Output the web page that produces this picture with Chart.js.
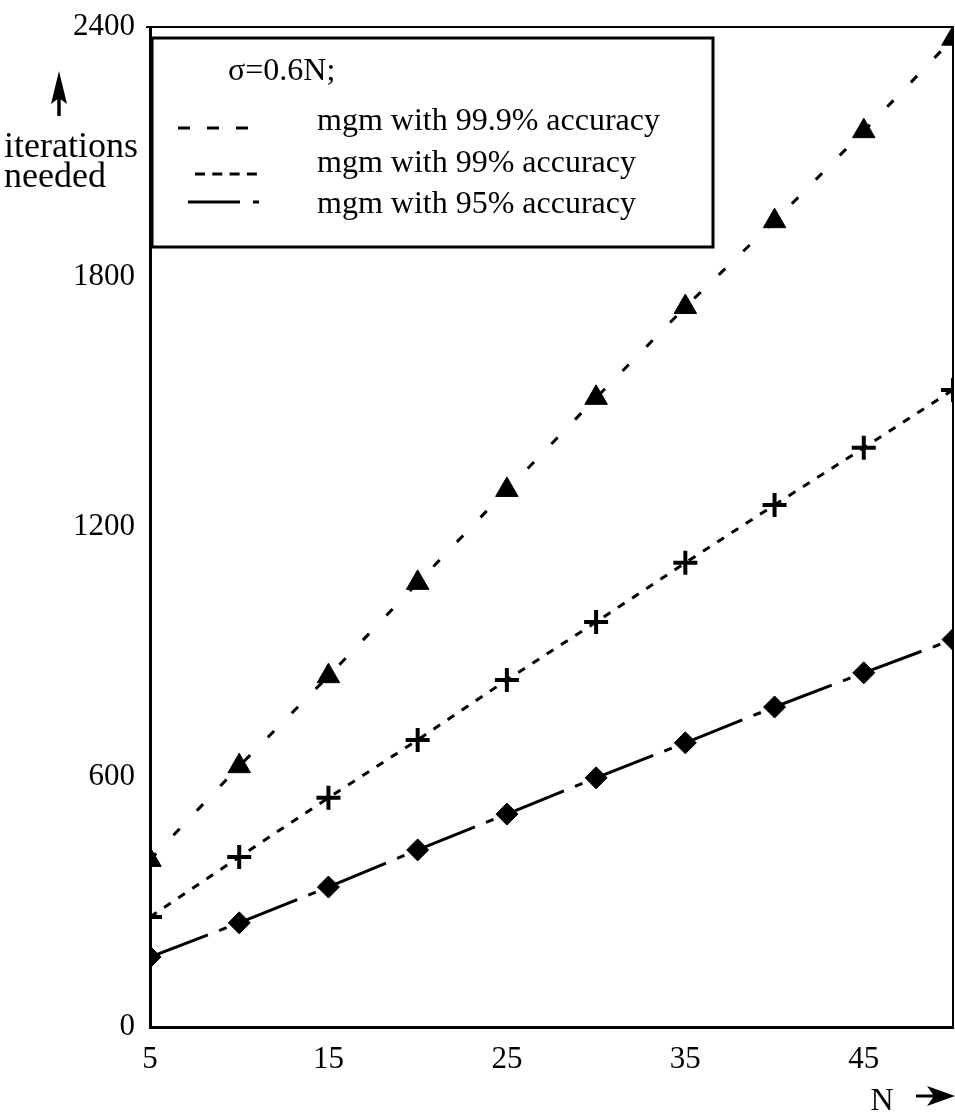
<!DOCTYPE html>
<html>
<head>
<meta charset="utf-8">
<script src="https://cdn.jsdelivr.net/npm/chart.js@4.4.0/dist/chart.umd.min.js"></script>
<style>
  body { margin: 0; background: #fff; }
  canvas { display: block; }
</style>
</head>
<body>
<canvas id="chart1" width="955" height="1113"></canvas>
<script>
// N values and iterations needed
const nValues = [5, 10, 15, 20, 25, 30, 35, 40, 45, 50];
const acc999 = [401, 626, 842, 1066, 1289, 1510, 1728, 1934, 2150, 2372];
const acc99 = [264, 408, 550, 689, 833, 972, 1114, 1253, 1390, 1529];
const acc95 = [168, 250, 336, 425, 511, 598, 682, 768, 850, 930];

const xTicks = [5, 15, 25, 35, 45];
const yTicks = [0, 600, 1200, 1800, 2400];

const legendTitle = "σ=0.6N;";
const seriesLabels = ["mgm with 99.9% accuracy", "mgm with 99% accuracy", "mgm with 95% accuracy"];

const serif = "'Liberation Serif', 'Times New Roman', serif";

function pts(ys) {
  return nValues.map((n, i) => ({ x: n, y: ys[i] }));
}

const noPad = () => ({ left: 0, top: 0, right: 0, bottom: 0 });

// frame, axis captions and the boxed legend
const decorPlugin = {
  id: "decor",
  afterDraw(chart) {
    const ctx = chart.ctx;
    const a = chart.chartArea;
    ctx.save();
    ctx.strokeStyle = "#000";
    ctx.lineWidth = 2;
    ctx.beginPath();
    ctx.moveTo(a.left - 4, a.top);
    ctx.lineTo(a.right, a.top);
    ctx.lineTo(a.right, a.bottom);
    ctx.stroke();

    // y caption with arrow
    ctx.fillStyle = "#000";
    ctx.font = "36px " + serif;
    ctx.textAlign = "left";
    ctx.textBaseline = "alphabetic";
    ctx.fillText("iterations", 4, 157);
    ctx.fillText("needed", 4, 187);
    ctx.lineWidth = 3.5;
    ctx.beginPath();
    ctx.moveTo(59, 116);
    ctx.lineTo(59, 92);
    ctx.stroke();
    ctx.beginPath();
    ctx.moveTo(59, 71);
    ctx.lineTo(67, 104);
    ctx.lineTo(59, 98);
    ctx.lineTo(51, 104);
    ctx.closePath();
    ctx.fill();

    // x caption with arrow
    ctx.font = "32px " + serif;
    ctx.textAlign = "center";
    ctx.fillText("N", 882, 1110);
    ctx.lineWidth = 3;
    ctx.beginPath();
    ctx.moveTo(916, 1096);
    ctx.lineTo(935, 1096);
    ctx.stroke();
    ctx.beginPath();
    ctx.moveTo(955, 1096);
    ctx.lineTo(927, 1086);
    ctx.lineTo(934, 1096);
    ctx.lineTo(927, 1106);
    ctx.closePath();
    ctx.fill();

    // legend box
    ctx.fillStyle = "#fff";
    ctx.fillRect(152, 38, 561, 209);
    ctx.lineWidth = 3;
    ctx.strokeRect(152, 38, 561, 209);
    ctx.fillStyle = "#000";
    ctx.font = "32px " + serif;
    ctx.textAlign = "left";
    ctx.fillText(legendTitle, 228, 80);
    const rows = [
      { y: 130, ly: 128, x0: 178, x1: 248, dash: [12, 17] },
      { y: 172, ly: 174, x0: 195, x1: 257, dash: [10, 7.3] },
      { y: 213, ly: 202, x0: 188, x1: 259, dash: [52, 13, 6, 100] },
    ];
    rows.forEach((r, i) => {
      ctx.fillText(seriesLabels[i], 317, r.y);
      ctx.setLineDash(r.dash);
      ctx.lineWidth = 3;
      ctx.beginPath();
      ctx.moveTo(r.x0, r.ly);
      ctx.lineTo(r.x1, r.ly);
      ctx.stroke();
    });
    ctx.setLineDash([]);
    ctx.restore();
  },
};

function renderChart() {
  const ctx = document.querySelector("#chart1").getContext("2d");
  const chart = new Chart(ctx, {
    type: "scatter",
    data: {
      datasets: [
        {
          label: seriesLabels[0],
          data: pts(acc999),
          showLine: true,
          borderColor: "#000",
          backgroundColor: "#000",
          borderWidth: 3,
          borderDash: [9, 25],
          pointStyle: "triangle",
          pointRadius: 13,
          pointBorderWidth: 1,
          clip: 0,
        },
        {
          label: seriesLabels[1],
          data: pts(acc99),
          showLine: true,
          borderColor: "#000",
          backgroundColor: "#000",
          borderWidth: 3,
          borderDash: [8, 9],
          pointStyle: "cross",
          pointRadius: 12,
          pointBorderWidth: 4,
          clip: 0,
        },
        {
          label: seriesLabels[2],
          data: pts(acc95),
          showLine: true,
          borderColor: "#000",
          backgroundColor: "#000",
          borderWidth: 3,
          borderDash: [62, 12, 8, 14],
          pointStyle: "rectRot",
          pointRadius: 11,
          pointBorderWidth: 1,
          clip: 0,
        },
      ],
    },
    options: {
      responsive: false,
      animation: false,
      layout: { autoPadding: false, padding: { top: 27, right: 2, left: 0, bottom: 0 } },
      plugins: {
        legend: { display: false },
        tooltip: { enabled: false },
      },
      scales: {
        x: {
          type: "linear",
          min: 5,
          max: 50,
          afterBuildTicks: (s) => { s.ticks = xTicks.map(v => ({ value: v })); },
          afterFit: (s) => { s.height = 86; s.getPadding = noPad; },
          grid: { display: false, drawTicks: false },
          border: { display: true, color: "#000", width: 3 },
          ticks: {
            color: "#000",
            padding: 14,
            maxRotation: 0,
            font: { family: serif, size: 31 },
            callback: (v) => String(v),
          },
        },
        y: {
          type: "linear",
          min: 0,
          max: 2400,
          afterBuildTicks: (s) => { s.ticks = yTicks.map(v => ({ value: v })); },
          afterFit: (s) => { s.width = 150; s.getPadding = noPad; },
          grid: { display: false, drawTicks: false },
          border: { display: true, color: "#000", width: 3 },
          ticks: {
            color: "#000",
            padding: 15,
            font: { family: serif, size: 31 },
            callback: (v) => String(v),
          },
        },
      },
    },
    plugins: [decorPlugin],
  });
}
renderChart();
</script>
</body>
</html>
